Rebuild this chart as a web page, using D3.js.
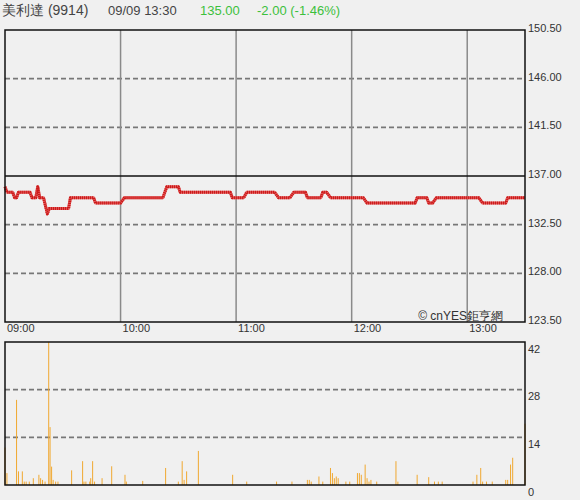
<!DOCTYPE html>
<html><head><meta charset="utf-8">
<script src="https://cdn.jsdelivr.net/npm/d3@7"></script>
<style>html,body{margin:0;padding:0;background:#f0f0f0;} svg{display:block;font-family:"Liberation Sans",Arial,sans-serif;}</style>
</head><body><svg id="c" width="580" height="500"></svg>
<script>
const title = "美利達 (9914)";
const stamp = "09/09 13:30";
const lastPrice = "135.00";
const change = "-2.00 (-1.46%)";
const credit = "© cnYES鉅亨網";
const timeLabels = ["09:00","10:00","11:00","12:00","13:00"];
const timeTickMinutes = [0,60,120,180,240];
const priceTicks = [123.5,128,132.5,137,141.5,146,150.5];
const prevClose = 137;
const volTicks = [0,14,28,42];
const priceMinutes = [0,1,4,5,6,7,13,14,16,17,18,20,22,23,33,34,46,47,60,62,82,84,90,91,117,118,124,125.5,140,142,148,150,156,157,164,165,167,169,186,188,213,214,219,220,222,224,246,248,260,261,270];
const prices =       [136,135.5,135.5,135,135,135.5,135.5,135,135,136,135,135,133.5,134,134,135,135,134.5,134.5,135,135,136,136,135.5,135.5,135,135,135.5,135.5,135,135,135.5,135.5,135,135,135.5,135.5,135,135,134.5,134.5,135,135,134.5,134.5,135,135,134.5,134.5,135,135];
const volMinutes = [0,1,6,7,9,10,11,12.6,14.7,17.6,18.5,19.5,20.8,22.7,23.4,24.2,25,26.3,27.5,34.6,40.3,41,42,44,44.5,45.5,46.5,50.4,55.4,62.3,63,71.5,83.4,90,92,93,94.3,100.4,118.2,125.5,141,149,157,158,159,163,165,169,170,171,172,173,177,179,183,184,185,187,188,189,190,193,203,204,214,220,223,225,227,243,245,247,248,250,253,260,261,262.5,263.6,270];
const volumes =    [11,3.5,25,4,4,1,1,1,2,3,2,1.5,1,42,17,5.4,1.5,1,1,4.3,7,1,1,1,2,7,1,2,5.5,3,1,1.2,5,1,7,1.5,4,10,3,1,1,1,1.5,1.5,1,2.5,1,5,3.5,2,2.5,2,1,1,3.5,3.5,3,6,2,1,1.5,1,7,1,3,2.3,1,1,1,1,3,5,1,1,1,1.5,1.5,6,8,18];

const svg = d3.select("#c");
const x = d3.scaleLinear().domain([0,270]).range([5,525]);
const yP = d3.scaleLinear().domain([123.5,150.5]).range([322,30]);
const yV = d3.scaleLinear().domain([0,42]).range([485,342]);

// header
svg.append("text").attr("x",2).attr("y",15).attr("font-size",14).attr("fill","#444").text(title);
svg.append("text").attr("x",108).attr("y",15).attr("font-size",13).attr("fill","#444").text(stamp);
svg.append("text").attr("x",200).attr("y",15).attr("font-size",13).attr("fill","#3cc03c").text(lastPrice);
svg.append("text").attr("x",257).attr("y",15).attr("font-size",13).attr("fill","#3cc03c").text(change);

// price gridlines
svg.append("g").selectAll("line").data(priceTicks.filter(d => d!==prevClose && d!==123.5 && d!==150.5)).join("line")
  .attr("x1",5).attr("x2",525).attr("y1",d=>yP(d)).attr("y2",d=>yP(d))
  .attr("stroke","#777").attr("stroke-width",1.8).attr("stroke-dasharray","5,3");
svg.append("g").selectAll("line").data(timeTickMinutes.slice(1)).join("line")
  .attr("x1",d=>x(d)).attr("x2",d=>x(d)).attr("y1",30).attr("y2",322)
  .attr("stroke","#8a8a8a").attr("stroke-width",1.5);
svg.append("line").attr("x1",5).attr("x2",525).attr("y1",yP(prevClose)).attr("y2",yP(prevClose))
  .attr("stroke","#111").attr("stroke-width",1.5);

// price line
const pts = priceMinutes.map((m,i)=>[x(m), yP(prices[i])]);
const line = d3.line();
svg.append("path").attr("d",line(pts)).attr("fill","none").attr("stroke","#e86a6a").attr("stroke-width",3).attr("stroke-linejoin","round");
svg.append("path").attr("d",line(pts)).attr("fill","none").attr("stroke","#cc1a1a").attr("stroke-width",3).attr("stroke-dasharray","1.3,0.7").attr("stroke-linejoin","round");

// price frame
svg.append("rect").attr("x",5).attr("y",30).attr("width",520).attr("height",292).attr("fill","none").attr("stroke","#111").attr("stroke-width",1.5);

// price axis
const pa = svg.append("g").attr("transform","translate(525,0)")
  .call(d3.axisRight(yP).tickValues(priceTicks).tickFormat(d3.format(".2f")).tickSize(0).tickPadding(3));
pa.select(".domain").remove();
pa.selectAll("text").attr("dy",null).attr("y",1.5).attr("font-size",11).attr("fill","#333").attr("font-family","Liberation Sans, Arial, sans-serif");

// time labels
svg.append("g").selectAll("text").data(timeTickMinutes).join("text")
  .attr("x",d=>x(d)+2).attr("y",332).attr("font-size",11).attr("fill","#333").text((d,i)=>timeLabels[i]);

// credit
svg.append("text").attr("x",503).attr("y",320).attr("text-anchor","end").attr("font-size",12).attr("fill","#333").text(credit);

// volume grid
svg.append("g").selectAll("line").data(volTicks.filter(d=>d>0 && d<42)).join("line")
  .attr("x1",5).attr("x2",525).attr("y1",d=>yV(d)).attr("y2",d=>yV(d))
  .attr("stroke","#777").attr("stroke-width",1.8).attr("stroke-dasharray","5,3");

// volume bars
svg.append("g").selectAll("line").data(volMinutes).join("line")
  .attr("x1",d=>x(d)).attr("x2",d=>x(d)).attr("y1",yV(0)).attr("y2",(d,i)=>yV(volumes[i]))
  .attr("stroke","#f0a830").attr("stroke-width",1);

svg.append("rect").attr("x",5).attr("y",342).attr("width",520).attr("height",143).attr("fill","none").attr("stroke","#111").attr("stroke-width",1.5);

const va = svg.append("g").attr("transform","translate(525,0)")
  .call(d3.axisRight(yV).tickValues(volTicks).tickFormat(d3.format("d")).tickSize(0).tickPadding(3));
va.select(".domain").remove();
va.selectAll("text").attr("dy",null).attr("y",10).attr("font-size",11).attr("fill","#333").attr("font-family","Liberation Sans, Arial, sans-serif");
</script></body></html>
